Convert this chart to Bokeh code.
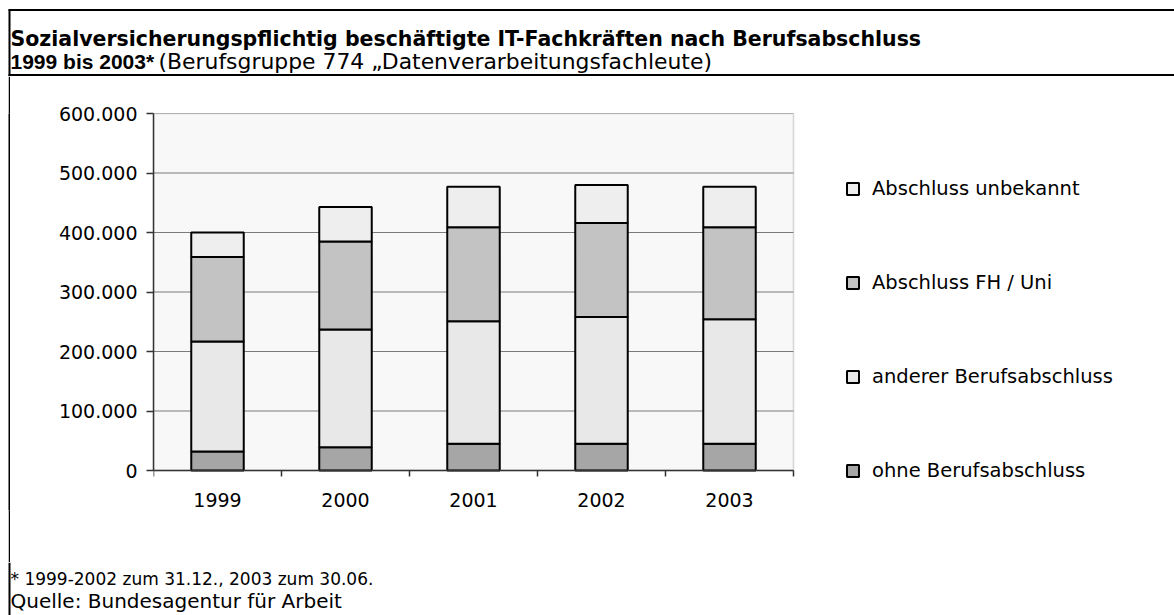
from bokeh.plotting import figure
from bokeh.models import (ColumnDataSource, Range1d, FixedTicker, Legend, LegendItem, Spacer,
                          BoxAnnotation)
from bokeh.layouts import row
from bokeh.core.properties import value
from bokeh.embed import file_html
from bokeh.resources import INLINE

# ---- data ----
years = ["1999", "2000", "2001", "2002", "2003"]
ohne = [32000, 39000, 45000, 45000, 45000]
anderer = [185000, 198000, 206000, 213000, 209000]
fh_uni = [142000, 148000, 158000, 158000, 155000]
unbekannt = [41000, 58000, 68000, 64000, 68000]
series_names = ["ohne Berufsabschluss", "anderer Berufsabschluss",
                "Abschluss FH / Uni", "Abschluss unbekannt"]
y_ticks = [0, 100000, 200000, 300000, 400000, 500000, 600000]
y_tick_labels = ["0", "100.000", "200.000", "300.000", "400.000", "500.000", "600.000"]
title1 = "Sozialversicherungspflichtig beschäftigte IT-Fachkräften nach Berufsabschluss"
title2_bold = "1999 bis 2003*"
title2_rest = "(Berufsgruppe 774 \u201eDatenverarbeitungsfachleute)"
foot1 = "* 1999-2002 zum 31.12., 2003 zum 30.06."
foot2 = "Quelle: Bundesagentur für Arbeit"

FONT = "DejaVu Sans"
colors = ["#a6a6a6", "#e8e8e8", "#c3c3c3", "#eeeeee"]
WIN_W = 1174
LEFT, TOP = 143, 37            # frame offsets inside the chart figure
CHART_W, CHART_H = 640, 357    # plot-area size in px
EXTRA_B = 40                   # frame extends below the zero line (legend + year labels)
BOTTOM_BORDER = 52
HDR_H = 76
MAIN_H = TOP + CHART_H + EXTRA_B + BOTTOM_BORDER
GAP = 7
FTR_H = 615 - HDR_H - MAIN_H


def blank(w, h):
    f = figure(width=w, height=h, toolbar_location=None, output_backend="svg",
               x_range=Range1d(0, w), y_range=Range1d(h, 0),
               x_axis_type=None, y_axis_type=None, min_border=0,
               outline_line_color=None, background_fill_color="white",
               border_fill_color="white")
    f.grid.visible = False
    return f


# ---- header (title block) ----
hdr = blank(WIN_W, HDR_H)
hdr.segment(x0=[8, 8, 9], y0=[9.5, 74.5, 9], x1=[WIN_W, WIN_W, 9], y1=[9.5, 74.5, HDR_H],
            line_color="black", line_width=2)
hdr.text(x=[10], y=[38], text=[title1], text_font=value(FONT), text_font_style="bold",
         text_font_size="20.5px", text_baseline="alphabetic", text_color="black")
hdr.text(x=[10], y=[61], text=[title2_bold], text_font=value("Liberation Sans"),
         text_font_style="bold", text_font_size="21px", text_baseline="alphabetic",
         text_color="black")
hdr.text(x=[158], y=[61], text=[title2_rest], text_font=value(FONT),
         text_font_size="21.9px", text_baseline="alphabetic", text_color="black")

# ---- main chart ----
n = len(years)
xc = [2 * i + 1 for i in range(n)]
src = ColumnDataSource(dict(x=xc, ohne=ohne, anderer=anderer, fh=fh_uni, unb=unbekannt))

P_W = WIN_W - 10
frame_w = P_W - LEFT
x_end = 2 * n * frame_w / CHART_W
y_start = -y_ticks[-1] * EXTRA_B / CHART_H

p = figure(width=P_W, height=MAIN_H, toolbar_location=None, output_backend="svg",
           x_range=Range1d(0, x_end), y_range=Range1d(y_start, y_ticks[-1]),
           min_border_left=LEFT, min_border_right=0, min_border_top=TOP,
           min_border_bottom=BOTTOM_BORDER,
           background_fill_color="white", border_fill_color="white",
           outline_line_color=None)
p.grid.visible = False

p.add_layout(BoxAnnotation(left=0, right=2 * n, bottom=0, top=y_ticks[-1],
                           fill_color="#f8f8f8", fill_alpha=1,
                           line_color="#808080", line_width=1.5, level="underlay"))
p.segment(x0=[0] * len(y_ticks), x1=[2 * n] * len(y_ticks), y0=y_ticks, y1=y_ticks,
          line_color="#7a7a7a", line_width=1)

rs = p.vbar_stack(["ohne", "anderer", "fh", "unb"], x="x", width=0.82, source=src,
                  fill_color=colors, line_color="black", line_width=2)

xa = p.xaxis[0]
xa.fixed_location = 0
xa.bounds = (0, 2 * n)
xa.ticker = FixedTicker(ticks=xc, minor_ticks=list(range(0, 2 * n + 1, 2)))
xa.major_label_overrides = {c: y for c, y in zip(xc, years)}
xa.major_tick_line_color = None
xa.major_tick_out = 0
xa.major_tick_in = 0
xa.minor_tick_out = 6
xa.minor_tick_in = 0
xa.minor_tick_line_color = "#333333"
xa.minor_tick_line_width = 1.5
xa.axis_line_color = "#333333"
xa.axis_line_width = 1.5
xa.major_label_standoff = 16
xa.major_label_text_font = FONT
xa.major_label_text_font_size = "19px"
xa.major_label_text_color = "black"

ya = p.yaxis[0]
ya.bounds = (0, y_ticks[-1])
ya.ticker = FixedTicker(ticks=y_ticks)
ya.major_label_overrides = {t: l for t, l in zip(y_ticks, y_tick_labels)}
ya.major_tick_out = 7
ya.major_tick_in = 0
ya.minor_tick_line_color = None
ya.major_tick_line_color = "#333333"
ya.major_tick_line_width = 1.5
ya.axis_line_color = "#333333"
ya.axis_line_width = 1.5
ya.major_label_standoff = 9
ya.major_label_text_font = FONT
ya.major_label_text_font_size = "19px"
ya.major_label_text_color = "black"

items = [LegendItem(label=series_names[i], renderers=[rs[i]]) for i in (3, 2, 1, 0)]
legend = Legend(items=items, location=(CHART_W + 52, EXTRA_B - 11.5), orientation="vertical",
                glyph_width=15, glyph_height=15, label_height=23, spacing=71,
                label_standoff=12, padding=0, margin=0,
                label_text_font=FONT, label_text_font_size="19.5px", label_text_color="black",
                background_fill_alpha=0, border_line_color=None)
p.add_layout(legend, "center")

strip = figure(width=2, height=MAIN_H, toolbar_location=None, output_backend="svg",
               x_axis_type=None, y_axis_type=None, min_border=0,
               background_fill_color="black", border_fill_color="black",
               outline_line_color=None)
strip.grid.visible = False

body = row(Spacer(width=8, height=MAIN_H), strip, p)

# ---- footer (notes) ----
ftr = blank(WIN_W, FTR_H)
ftr.segment(x0=[9], y0=[0], x1=[9], y1=[FTR_H], line_color="black", line_width=2)
f_top = HDR_H + MAIN_H + GAP
ftr.text(x=[10], y=[585 - f_top], text=[foot1], text_font=value(FONT),
         text_font_size="17px", text_baseline="alphabetic", text_color="black")
ftr.text(x=[10], y=[607 - f_top], text=[foot2], text_font=value(FONT),
         text_font_size="20px", text_baseline="alphabetic", text_color="black")

open("out.html", "w").write(file_html([hdr, body, ftr], INLINE))
